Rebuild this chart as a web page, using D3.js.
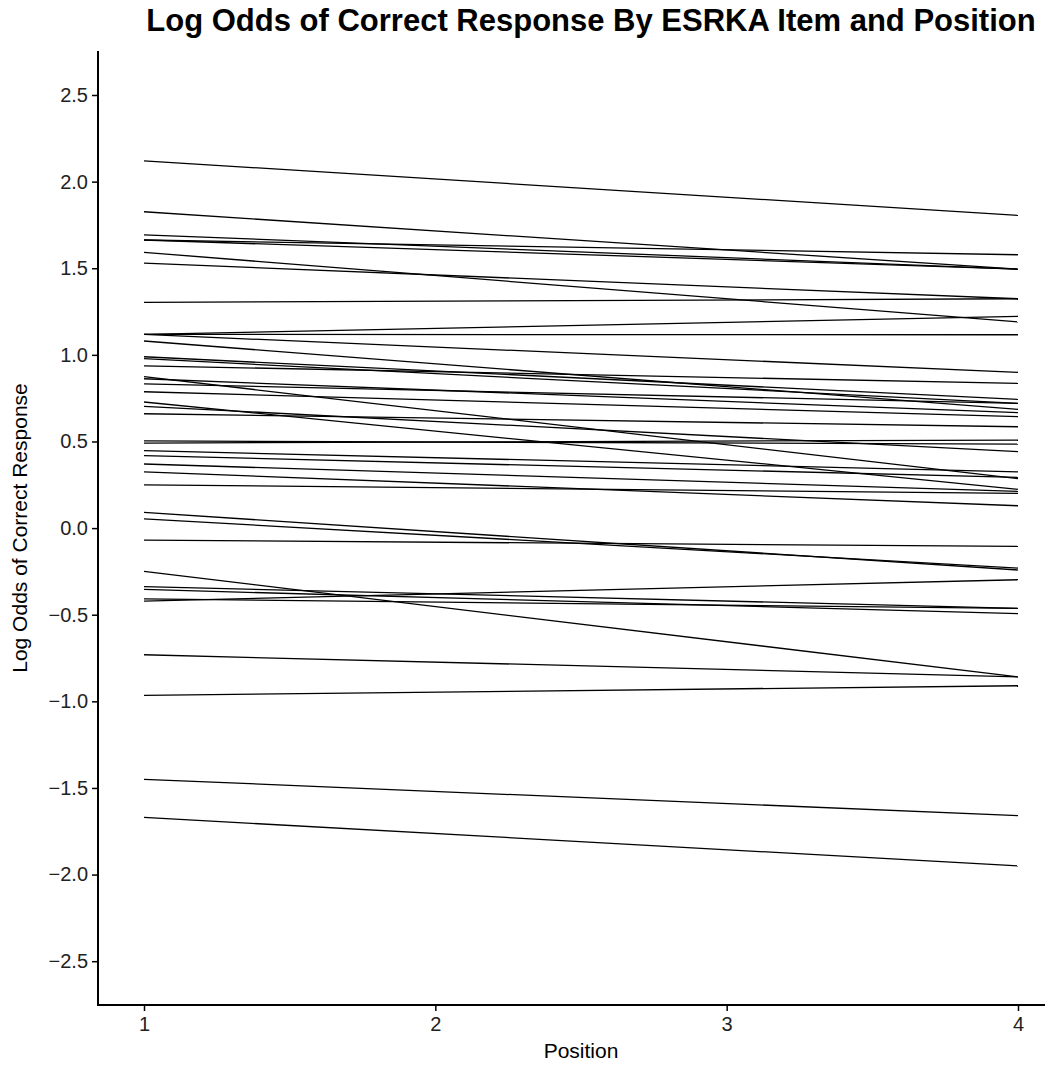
<html>
  <head>
    <meta charset="utf-8">
    <script src="https://d3js.org/d3.v7.min.js"></script>
    <style>
      body { margin: 0; background: white; }
      text { font-family: "Liberation Sans", Arial, sans-serif; }
    </style>
  </head>
  <body>
    <script>
      // fitted log odds at position 1 and position 4, one entry per item
      var posStart = [2.12, 1.826, 1.693, 1.663, 1.663, 1.592, 1.530, 1.303, 1.118, 1.118,
                      1.118, 1.080, 0.989, 0.978, 0.937, 0.874, 0.862, 0.832, 0.787, 0.728,
                      0.703, 0.660, 0.503, 0.491, 0.447, 0.418, 0.370, 0.325, 0.250, 0.091,
                      0.053, -0.069, -0.250, -0.338, -0.354, -0.409, -0.421, -0.731, -0.965, -1.45,
                      -1.67];
      var posEnd   = [1.805, 1.495, 1.495, 1.578, 1.495, 1.190, 1.324, 1.324, 1.222, 1.116,
                      0.899, 0.685, 0.743, 0.720, 0.835, 0.285, 0.666, 0.720, 0.643, 0.224,
                      0.441, 0.585, 0.485, 0.508, 0.325, 0.293, 0.212, 0.129, 0.201, -0.242,
                      -0.231, -0.106, -0.859, -0.463, -0.494, -0.463, -0.298, -0.859, -0.910, -1.66,
                      -1.95];
      var positions = [1, 2, 3, 4];
      var yTicks = [-2.5, -2.0, -1.5, -1.0, -0.5, 0.0, 0.5, 1.0, 1.5, 2.0, 2.5];

      var width = 1055, height = 1067;

      var items = posStart.map(function(d, i) {
        return [{ pos: 1, val: d }, { pos: 4, val: posEnd[i] }];
      });

      var svg = d3.select("body").append("svg")
                  .attr("width", width).attr("height", height);

      var x = d3.scaleLinear().domain([0.85, 4.15]).range([100.3, 1061.7]);
      var y = d3.scaleLinear().domain([-2.754, 2.754]).range([1005.2, 51]);

      var line = d3.line()
                   .x(function(d) { return x(d.pos); })
                   .y(function(d) { return y(d.val); });

      svg.append("g").selectAll("path")
         .data(items)
         .enter().append("path")
         .attr("d", line)
         .attr("fill", "none")
         .attr("stroke", "black")
         .attr("stroke-width", 1.3);

      // axes
      var yAxis = svg.append("g")
                     .attr("transform", "translate(98,0)")
                     .call(d3.axisLeft(y).tickValues(yTicks).tickFormat(d3.format(".1f"))
                             .tickSize(6).tickPadding(4).tickSizeOuter(0));
      var xAxis = svg.append("g")
                     .attr("transform", "translate(0,1005)")
                     .call(d3.axisBottom(x).tickValues(positions).tickFormat(d3.format("d"))
                             .tickSize(6).tickPadding(6).tickSizeOuter(0));

      [yAxis, xAxis].forEach(function(g) {
        g.select(".domain").attr("stroke", "black").attr("stroke-width", 2);
        g.selectAll(".tick line").attr("stroke", "black").attr("stroke-width", 1.5);
        g.selectAll(".tick text").attr("fill", "#222").attr("font-size", 20)
         .attr("font-family", "Liberation Sans, Arial, sans-serif");
      });
      yAxis.select(".domain").attr("d", "M0,51V1006");
      xAxis.select(".domain").attr("d", "M97,0H1045");

      svg.append("text")
         .attr("x", 591).attr("y", 31)
         .attr("text-anchor", "middle")
         .attr("font-size", 31).attr("font-weight", "bold")
         .text("Log Odds of Correct Response By ESRKA Item and Position");

      svg.append("text")
         .attr("x", 581).attr("y", 1058)
         .attr("text-anchor", "middle")
         .attr("font-size", 21)
         .text("Position");

      svg.append("text")
         .attr("transform", "translate(27,528) rotate(-90)")
         .attr("text-anchor", "middle")
         .attr("font-size", 21)
         .text("Log Odds of Correct Response");
    </script>
  </body>
</html>
